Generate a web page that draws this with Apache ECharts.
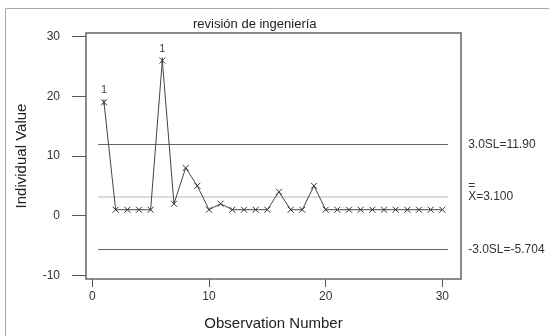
<!DOCTYPE html>
<html>
<head>
<meta charset="utf-8">
<script src="https://cdn.jsdelivr.net/npm/echarts@6/dist/echarts.min.js"></script>
<style>
  html, body { margin: 0; padding: 0; background: #fff; }
  #chart { width: 549px; height: 336px; }
</style>
</head>
<body>
<div id="chart"></div>
<script>
// observation numbers and individual values
const observations = [1, 2, 3, 4, 5, 6, 7, 8, 9, 10, 11, 12, 13, 14, 15, 16, 17, 18, 19, 20, 21, 22, 23, 24, 25, 26, 27, 28, 29, 30];
const values = [19, 1, 1, 1, 1, 26, 2, 8, 5, 1, 2, 1, 1, 1, 1, 4, 1, 1, 5, 1, 1, 1, 1, 1, 1, 1, 1, 1, 1, 1];
// points flagged by test 1 (beyond 3 sigma)
const flagged = [1, 6];

const xTicks = [0, 10, 20, 30];
const yTicks = [-10, 0, 10, 20, 30];

const ucl = 11.90;
const centerLine = 3.100;
const lcl = -5.704;
const limitStart = 0.5;
const limitEnd = 30.5;

const crossPath = 'path://M0,0L10,10M10,0L0,10';
const starPath = 'path://M0,0L10,10M10,0L0,10M5,0L5,10';

const chart = echarts.init(document.getElementById('chart'));

const points = observations.map((x, i) => {
  const isFlag = flagged.includes(x);
  return {
    value: [x, values[i]],
    symbol: isFlag ? starPath : crossPath,
    label: {
      show: isFlag,
      formatter: '1',
      position: 'top',
      distance: 3,
      color: '#444',
      fontSize: 11,
      fontFamily: 'Liberation Sans'
    }
  };
});

const limitLine = (y, color, width) => ([
  { coord: [limitStart, y], lineStyle: { color: color, width: width, type: 'solid' } },
  { coord: [limitEnd, y] }
]);

chart.setOption({
  animation: false,
  textStyle: { fontFamily: 'Liberation Sans' },
  title: {
    text: 'revisión de ingeniería',
    left: 188,
    top: 13,
    textStyle: { fontSize: 13, fontWeight: 'normal', color: '#222', fontFamily: 'Liberation Sans' }
  },
  graphic: [{
    type: 'polyline',
    shape: { points: [[5.5, 336], [5.5, 8.5], [549, 8.5]] },
    style: { stroke: '#a8a8a8', fill: null, lineWidth: 1 },
    silent: true
  }],
  grid: {
    left: 86,
    right: 88,
    top: 33,
    bottom: 53,
    show: true,
    borderColor: '#666',
    borderWidth: 1.5,
    backgroundColor: 'transparent'
  },
  xAxis: {
    type: 'value',
    min: -0.54,
    max: 31.6,
    name: 'Observation Number',
    nameLocation: 'middle',
    nameGap: 37,
    nameTextStyle: { fontSize: 15, color: '#222' },
    axisLine: { show: false, onZero: false },
    axisTick: { show: true, length: 8, customValues: xTicks, lineStyle: { color: '#555' } },
    axisLabel: { customValues: xTicks, margin: 12, fontSize: 12, color: '#333' },
    splitLine: { show: false }
  },
  yAxis: {
    type: 'value',
    min: -10.61,
    max: 30.61,
    name: 'Individual Value',
    nameLocation: 'middle',
    nameGap: 57,
    nameTextStyle: { fontSize: 15, color: '#222' },
    axisLine: { show: false, onZero: false },
    axisTick: { show: true, length: 14, customValues: yTicks, lineStyle: { color: '#555' } },
    axisLabel: { customValues: yTicks, margin: 26, fontSize: 12, color: '#333' },
    splitLine: { show: false }
  },
  series: [{
    type: 'line',
    data: points,
    symbolSize: 6,
    showSymbol: true,
    lineStyle: { color: '#444', width: 1 },
    itemStyle: { color: 'transparent', borderColor: '#333', borderWidth: 1 },
    z: 3,
    markLine: {
      silent: true,
      symbol: 'none',
      z: 2,
      label: {
        show: true,
        position: 'end',
        distance: 20,
        fontSize: 12,
        color: '#333',
        fontFamily: 'Liberation Sans'
      },
      data: [
        [Object.assign({}, limitLine(ucl, '#666', 1.2)[0], { label: { formatter: '3.0SL=' + ucl.toFixed(2) } }), limitLine(ucl)[1]],
        [Object.assign({}, limitLine(centerLine, '#cfcfcf', 1.5)[0], {
          label: {
            formatter: '{bar|=}\n{v|X=' + centerLine.toFixed(3) + '}',
            padding: [0, 0, 9, 0],
            rich: {
              bar: { fontSize: 12, lineHeight: 8, color: '#333' },
              v: { fontSize: 12, lineHeight: 14, color: '#333' }
            }
          }
        }), limitLine(centerLine)[1]],
        [Object.assign({}, limitLine(lcl, '#666', 1.2)[0], { label: { formatter: '-3.0SL=' + lcl.toFixed(3) } }), limitLine(lcl)[1]]
      ]
    }
  }]
});
</script>
</body>
</html>
